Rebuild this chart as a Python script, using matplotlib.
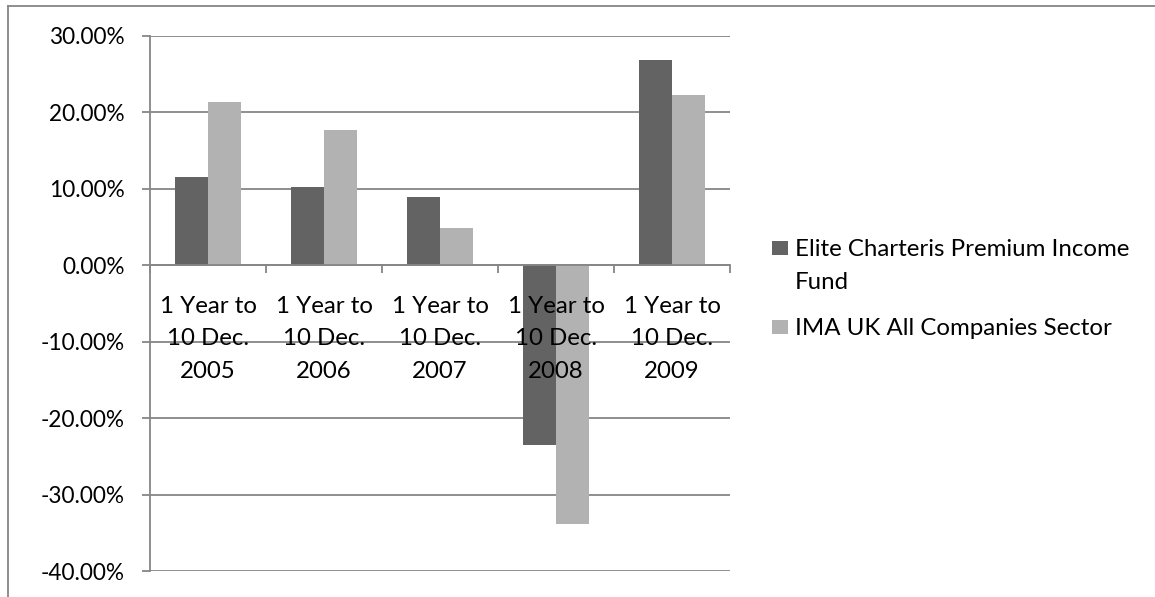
import matplotlib
matplotlib.use("Agg")
import matplotlib.pyplot as plt
import matplotlib.ticker
from matplotlib.patches import Rectangle
import numpy as np

categories = [
    "1 Year to\n10 Dec.\n2005",
    "1 Year to\n10 Dec.\n2006",
    "1 Year to\n10 Dec.\n2007",
    "1 Year to\n10 Dec.\n2008",
    "1 Year to\n10 Dec.\n2009",
]
elite = [11.5, 10.3, 8.9, -23.5, 26.8]
ima = [21.4, 17.7, 4.9, -33.8, 22.3]
series_names = ["Elite Charteris Premium Income\nFund", "IMA UK All Companies Sector"]
yticks = [-40, -30, -20, -10, 0, 10, 20, 30]

DARK = "#636363"
LIGHT = "#b2b2b2"
GRID = "#868686"
FONT = "Lato"
FS_Y = 16.3
FS = 17.3

W, H = 1155, 597
fig = plt.figure(figsize=(W / 100, H / 100), dpi=100)
fig.patch.set_facecolor("white")

# plot area in pixels: x 150..730, y 36..571
ax = fig.add_axes([150 / W, 1 - 571 / H, 580 / W, (571 - 36) / H])

x = np.arange(len(categories))
bw = 0.285
ax.bar(x - bw / 2, elite, bw, color=DARK, linewidth=0, zorder=3)
ax.bar(x + bw / 2, ima, bw, color=LIGHT, linewidth=0, zorder=3)

ax.set_xlim(-0.5, len(categories) - 0.5)
ax.set_ylim(-40, 30)
ax.set_yticks(yticks)
ax.yaxis.set_major_formatter(matplotlib.ticker.FuncFormatter(lambda v, p: f"{v:.2f}%"))
ax.yaxis.grid(True, color=GRID, linewidth=1.3)
ax.set_axisbelow(True)
# category labels sit on top of the bars, as in Excel
ax.xaxis.set_zorder(5)

for s in ["top", "right"]:
    ax.spines[s].set_visible(False)
ax.spines["left"].set_color(GRID)
ax.spines["left"].set_linewidth(1.3)
ax.spines["bottom"].set_position(("data", 0))
ax.spines["bottom"].set_color(GRID)
ax.spines["bottom"].set_linewidth(1.3)
ax.spines["bottom"].set_zorder(4)

ax.tick_params(axis="y", length=6, width=1.3, color=GRID, pad=12, labelsize=FS_Y)
ax.set_xticks(np.arange(-0.5, len(categories), 1.0))
ax.set_xticklabels([])
ax.tick_params(axis="x", which="major", direction="out", length=6, width=1.3, color=GRID)
ax.set_xticks(x, minor=True)
ax.set_xticklabels(categories, minor=True, fontsize=FS, linespacing=1.67)
ax.tick_params(axis="x", which="minor", length=0, pad=22)
for lab in ax.get_yticklabels() + ax.get_xticklabels(minor=True):
    lab.set_fontfamily(FONT)

# outer chart frame (top and left edges visible)
fig.add_artist(plt.Line2D([8 / W, 1], [1 - 6 / H, 1 - 6 / H], color=GRID, linewidth=1.3))
fig.add_artist(plt.Line2D([8 / W, 8 / W], [0, 1 - 6 / H], color=GRID, linewidth=1.3))

# legend, Excel style: square aligned with first text line
legend_rows = [(series_names[0], DARK, 248), (series_names[1], LIGHT, 327)]
for name, col, yc in legend_rows:
    fig.add_artist(Rectangle((772 / W, 1 - (yc + 7) / H), 16 / W, 14 / H,
                             transform=fig.transFigure, color=col, linewidth=0))
    fig.text(795 / W, 1 - (yc - 9) / H, name, fontsize=FS, fontfamily=FONT,
             va="top", ha="left", linespacing=1.7)

fig.savefig("out.png", dpi=100, facecolor="white")
